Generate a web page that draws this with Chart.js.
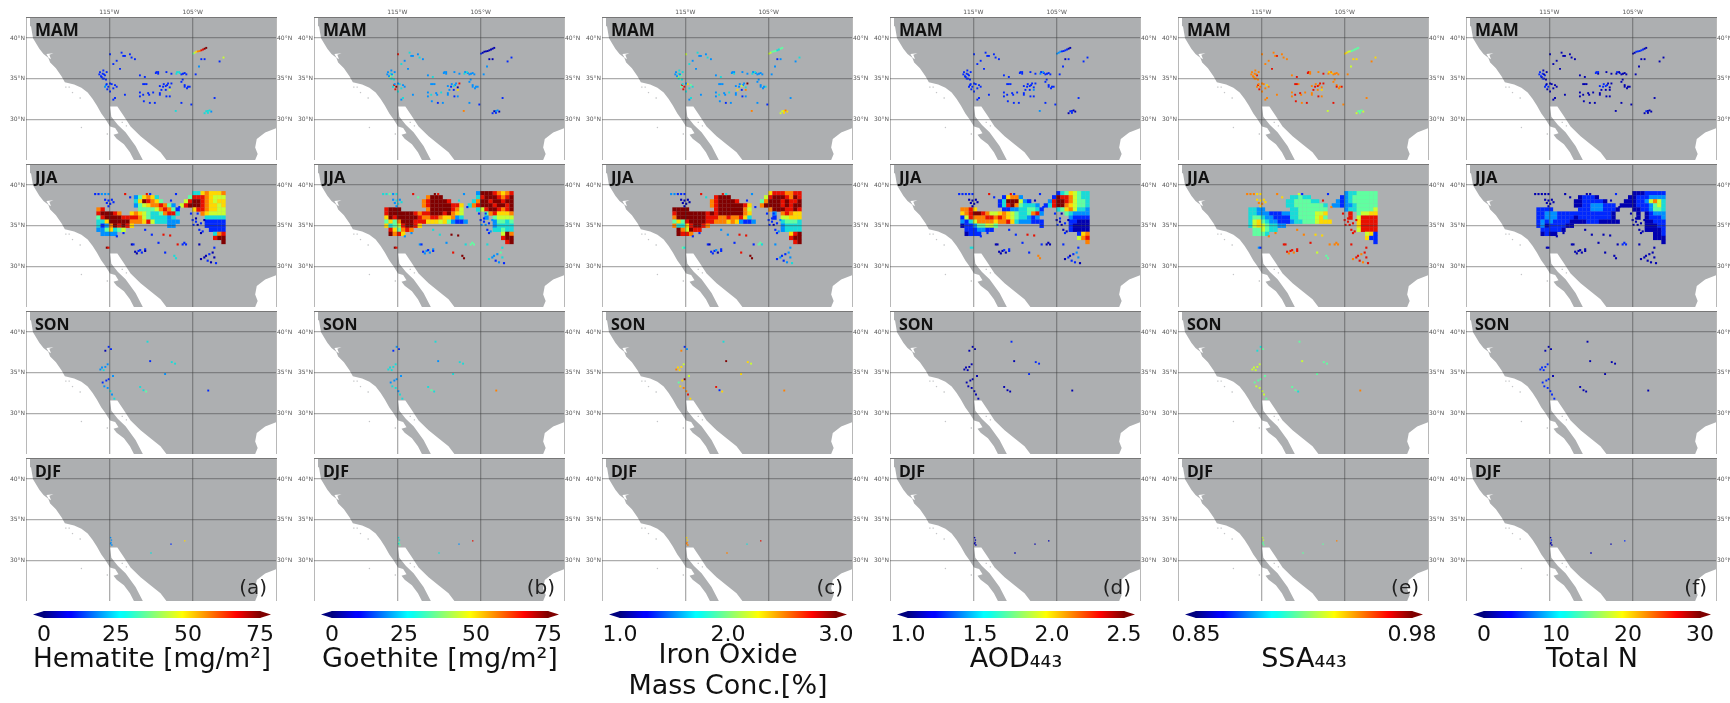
<!DOCTYPE html>
<html><head><meta charset="utf-8">
<style>html,body{margin:0;padding:0;background:#fff;overflow:hidden}
canvas{position:absolute;display:block}
canvas.map{filter:blur(0.7px)}
canvas.cbar{filter:blur(0.4px)}</style>
<script src="https://cdn.jsdelivr.net/npm/chart.js@4/dist/chart.umd.min.js"></script>
</head><body>
<script>
const seasons=['MAM','JJA','SON','DJF'];
const panelTags=['(a)','(b)','(c)','(d)','(e)','(f)'];
const lonTicks=[-125,-115,-105,-95];
const latTicks=[30,35,40];
const coast=[[-124.52,42.6],[-95,42.6],[-95,28.92],[-96.3,28.4],[-97.31,27.6],[-97.5,26.53],[-97.2,25.74],[-97.5,25],
[-108.15,25],[-108.86,25.94],[-110.06,26.93],[-111.25,27.93],[-112.45,29.12],[-113.33,30.52],[-114.04,31.6],
[-114.92,31.6],[-114.76,30.32],[-113.96,29.32],[-113.05,28.41],[-111.85,26.73],[-110.98,25],[-112.05,25],
[-112.53,25.94],[-113.25,26.93],[-114.12,27.61],[-114.5,28.1],[-113.9,28.3],[-114.3,28.95],[-114.92,29.12],[-115.44,30],
[-115.96,30.72],[-116.5,31.7],[-117,32.5],[-117.6,33.3],[-118.35,33.9],[-119.22,34.3],[-120.34,34.58],[-120.74,35.3],
[-121.41,36.29],[-122.1,37.01],[-122.33,37.57],[-122.9,38.05],[-123.4,38.69],[-124.16,40],[-124.4,41.47],[-124.52,42.6]];
const bay=[[-122.55,38.05],[-121.7,38.15],[-122.2,37.95],[-122,37.4],[-122.3,37.6],[-122.55,38.05]];
const islandLon=[-120.22,-119.82,-119.42,-118.5,-118.35,-115.24,-113.45,-112.95];
const islandLat=[33.98,33.98,33.3,32.63,29,28.2,29.64,29.2];

const jjaLonStart=-116.3, jjaLonStep=0.5;
const jjaLat=[39,38.5,38,37.5,37,36.5,36,35.5,35,34.5,34,33.5,33];
const jjaHematite=[
"......... ............ ..33676667",
"......... 246763...... .488876555",
"......... 3698764..... 5899876566",
"......... 2456778742.5 8999876656",
"78....... .4444578741. ..68876655",
"899987..6 76543347883. ....765555",
"489999888 8754333323.. .....33333",
"336999997 77685333222. .....11111",
"312798986 ........22.. .....11111",
"2246345.. ............ ......1111",
".2222.... ............ .......378",
"......... ............ .......899",
"......... ............ .........9"];
const jjaGoethite=[
"......... ............ .299987678",
"......... .7999....... .389998789",
"......... 7899998..... 3799899899",
"......... 7899999886.3 7899989989",
"8999..... .799999875.. .358998789",
"899999987 8899989765.. ...4786667",
"698999998 7788766723.. ...2.45555",
"464799988 86665642112. .....24434",
"634589986 ............ .....23333",
".864787.. ............ .....33433",
".9786.... ............ .......597",
"......... ............ .......899",
"......... ............ ........89"];
const jjaIron=[
"......... ............ ..68887788",
"......... .8999....... .589998798",
"......... 7899998..... 4799989889",
"......... 7899999986.. 7999989899",
"9999..... .899999975.. ..79998898",
"899999998 9899999976.. ...2.78766",
"799999998 8877877863.. ...1.55666",
"464899998 87776762112. .....34443",
"733689987 ............ .....23333",
".975988.. ............ .....23333",
".9887.... ............ .......689",
"......... ............ .......899",
"......... ............ ........89"];
const jjaAod=[
"......... ............ ..13465433",
"......... .16772...... .198875433",
"......... 13999521.... 2899875443",
"......... 1389743332.1 3899765443",
"7786..... .1122334431. ..34675332",
"678998755 67654334782. ....432222",
"158777887 8765433212.. .....21111",
"213577776 77863222111. .....11000",
"011244554 ..........1. .....10000",
".1112211. ............ .....10000",
".0111.... ............ .......167",
"......... ............ .......578",
"......... ............ .........7"];
const jjaSsa=[
"......... ............ ..23344444",
"......... .33433...... .123444444",
"......... 33444433.... 2123444444",
"......... 3344444443.2 2122344444",
"3322..... .334444444.. ..23344445",
"332221112 2334444556.. ...8.45566",
"344322111 1334444564.. ...8.58888",
"356432211 12334445666. .....68888",
"356543322 ............ .....68888",
".445433.. ............ .....58888",
".4443.... ............ .......561",
"......... ............ .......611",
"......... ............ .........1"];
const jjaTotalN=[
"......... ............ ..00011111",
"......... .01110...... .001112222",
"......... 00111110.... 0001125753",
"......... 0011222111.0 0001112453",
"1111..... .1112221110. ..00112443",
"112221111 1111111110.. ...0.01222",
"112221111 0111111110.. ...0.01112",
"121211110 00011100000. .....00111",
"120111100 ............ .....00011",
".111110.. ............ .....00001",
".0100.... ............ .......001",
"......... ............ .......000",
"......... ............ .........0"];

const jjaSiteLon=[-116.7,-116.3,-115.9,-115.5,-115.1, -115.5,-115.1,-114.7,-115.3,-114.9,-114.5,-115.1,
-113.1,-112.5,-110.5,-110.1,-107,-107.6,-106.6, -114.1,-113.3,-110.7,-109.9,-108.5,-107.7,-109.1,-110.7, -115.3,-115.1,
-111.9,-111.5,-111.1,-110.7,-111.7,-111.3,-112.3,-112.1, -108.3,-107.2,-107, -106,-105.8,-106.2, -106.8,
-105,-104.6,-104.4,-104,-104.9,-103.8,-104.2,-104.6,-103.6,-105.2,-104.4,-104,
-104,-103.6,-103.2,-102.8,-102.4,-102.2,-102.6,-102.4,-103.4,-103,-104.2];
const jjaSiteLat=[38.9,38.9,38.9,38.9,38.9, 38.2,38.1,38.2,37.8,37.7,37.9,37.4,
38.9,38.5,38.9,38.9,38.9,38.1,37.3, 33.7,34.1,34.5,33.9,33.9,33.8,32.9,32.1, 32.3,32.3,
31.8,31.9,31.7,31.9,31.6,32,32.7,32.7, 31.7,31.3,31, 32.9,32.7,32.7, 32.7,
35.7,35.5,35.1,35.3,35.1,34.3,34.5,35.9,35.7,36.5,36.5,34.1,
30.9,31.1,30.7,30.5,31.1,30.4,31.7,32.3,31.3,31.5,32.7];
const jjaSiteHematite="11222 1111111 8181111 11118811 98 01100101 133 111 8 110111100110 00100101010";
const jjaSiteGoethite="33423 2322332 8498231 22339922 98 12212121 899 444 3 112122112111 32123143223";
const jjaSiteIron="22111 0000000 8383211 11228811 43 11011210 899 434 1 110112112111 12122322112";
const jjaSiteAod="11111 0000000 8181101 11118811 33 00010100 177 000 1 000110010101 01112021011";
const jjaSiteSsa="77766 6667766 7651187 77776688 21 88787888 544 777 7 888888888888 78878888878";
const jjaSiteN="00000 0000000 0000100 00000000 00 00000000 000 111 0 000000000000 00000000000";

const mamSiteLon=[-104.96,-104.76,-104.56,-104.36,-104.16,-103.96,-103.76,-103.56,-103.37, -103.96,-103.57,-104.24,
-103.17,-102.77,-103.57,-103.37,-102.97,-103.17, -107.03, -106.87,-106.55,-106.16,-105.76,-104.64,
-116.12,-115.8,-115.52,-115.92,-115.64,-115.32,-115.72, -115.4,-115.12,-114.72,-114.32,-115.24,-114.12,-114.92,
-114.92,-114.12,-113.53,-113.13,-112.33,-111.93,-114.52,-113.72, -114.52,-114.32,-113.13,
-110.94,-110.54,-109.34,-109.14,-111.33,-110.74,-108.15,-107.55,
-111.33,-110.94,-110.34,-109.74,-110.86,-110.14,-109.54,-108.94,-108.15,-107.75,-106.35,-105.16,
-108.94,-108.55,-108.07,-107.75,-108.75,-107.55,-108.23,-107.75, -105.96,-105.68,-105.36,-106.35,-106.2, -102.37,-101.77,-101.3,
-116.2,-116,-115.8,-115.4,-115.64, -115.52,-115.32,-114.92,-114.52,
-109.42,-109.14,-110.74,-108.47,-108.23,-107.95, -106.95,-106.63,-106.35,-105.96,
-105.56,-105.96,-110.22,-108.94,-113.33,-112.53,-111.33];
const mamSiteLat=[38.09,38.2,38.33,38.37,38.41,38.5,38.6,38.7,38.8, 37.41,37.41,36.5,
31.04,30.96,30.76,31,31.1,30.8, 31.04, 35.82,35.7,35.62,35.54,35.54,
35.82,35.62,35.42,35.22,35.02,35.82,36.02, 34.22,34.02,34.34,34.22,33.7,34.02,33.43,
38.01,37.21,38.21,37.81,37.61,37.41,36.81,36.21, 32.43,32.63,33.03,
34.34,34.34,35.82,35.62,35.42,35.22,35.82,35.62,
33.31,33.03,33.23,33.31,32.23,32.03,32.03,33.23,32.83,32.83,32.03,31.83,
34.1,34.02,34.22,33.94,33.63,34.42,33.63,33.63, 34.22,33.83,34.02,34.62,34.9, 32.63,37.13,37.61,
35.54,35.3,35.02,34.9,35.54, 34.02,34.34,34.42,33.82,
35.7,35.82,34.34,34.34,34.1,34.42, 35.62,35.82,35.54,35.7,
34.02,34.02,33.03,33.03,37.81,38.01,32.83];
const mamHematite="456778899 112 323333 3 33111 1111111 2111111 11111111 111 11111111 111111111111 11111115 11111 115 11111 2111 111111 3311 1111111";
const mamGoethite="100000000 002 201021 7 22222 2345322 8932823 82323232 232 22222322 232321221221 21202816 22222 111 22332 3223 222232 3322 2222222";
const mamIron="554443344 122 665576 7 22222 2345433 8864833 52323232 232 22232322 232321221221 22236917 22322 223 22332 4323 222252 3322 2222222";
const mamAod="222111100 011 100101 2 11111 1111111 1111111 11111111 111 11111111 111111111111 11111112 11111 111 11111 1111 111111 2211 1111111";
const mamSsa="665544444 665 455444 5 66777 7787777 8776877 77787778 777 87877878 788787878787 78778876 77877 776 77777 7777 878788 7777 7877777";
const mamN="001111100 000 000100 0 11000 1110000 1100000 00000000 000 00100000 000000000000 11100000 00000 000 11100 1000 110110 0000 0000000";

const sonSiteLon=[-115.08,-114.8,-115.48, -115.88,-115.48,-116.08,-115.68,-115.2, -115.8,-115.36,-115.08,
-115.6,-115.2,-114.88,-114.68,-114.4, -111.3,-110.9,-110.58, -107.51,-107.11, -110.1,-108.31,-110.42,-103.13,-114.56];
const sonSiteLat=[38.19,37.91,37.71, 35.64,35.72,35.4,35.32,36.04, 33.8,34.04,34.2,
33.33,33.13,32.73,32.33,31.81, 33.25,32.85,32.69, 36.31,36.12, 36.43,34.84,38.82,32.81,34.6];
const sonHematite="110 22232 111 22323 334 33 1 2 3 1 2";
const sonGoethite="211 33333 222 33233 343 33 2 3 3 7 2";
const sonIron="127 66765 469 67786 816 65 9 6 3 7 5";
const sonAod="000 00000 000 00000 000 11 0 1 1 0 0";
const sonSsa="343 55555 444 55554 443 44 5 4 4 7 4";
const sonN="000 11111 111 11111 000 00 0 0 0 0 0";

const djfSiteLon=[-114.85,-114.75,-114.8,-114.7,-114.85,-107.6,-105.95,-110];
const djfSiteLat=[32.8,32.5,32.2,31.9,32.05,32,32.4,30.9];
const djfHematite="22222 1 6 3";
const djfGoethite="33443 2 8 3";
const djfIron="66777 3 8 7";
const djfAod="00000 0 0 0";
const djfSsa="55444 4 7 4";
const djfN="01000 0 1 0";

const levelColors=['#0000b0','#0028ff','#0090ff','#18dcd8','#60ffa0','#c8ff30','#ffd800','#ff8000','#e81000','#800000'];
const jetStops=[[0,'#00007f'],[0.11,'#0000ff'],[0.125,'#0000ff'],[0.35,'#00ffff'],[0.375,'#08fff0'],[0.5,'#7fff7f'],[0.64,'#ffff00'],[0.89,'#ff0000'],[1,'#7f0000']];

const barNames=['Hematite [mg/m²]','Goethite [mg/m²]',['Iron Oxide','Mass Conc.[%]'],'AOD₄₄₃','SSA₄₄₃','Total N'];
const barMin=[0,0,1,1,0.85,0];
const barMax=[75,75,3,2.5,0.98,30];
const barTicks=[[0,25,50,75],[0,25,50,75],[1,2,3],[1,1.5,2,2.5],[0.85,0.98],[0,10,20,30]];
const barTickText=[['0','25','50','75'],['0','25','50','75'],['1.0','2.0','3.0'],['1.0','1.5','2.0','2.5'],['0.85','0.98'],['0','10','20','30']];

const jjaRasters=[jjaHematite,jjaGoethite,jjaIron,jjaAod,jjaSsa,jjaTotalN];
const jjaSiteLevels=[jjaSiteHematite,jjaSiteGoethite,jjaSiteIron,jjaSiteAod,jjaSiteSsa,jjaSiteN];
const mamLevels=[mamHematite,mamGoethite,mamIron,mamAod,mamSsa,mamN];
const sonLevels=[sonHematite,sonGoethite,sonIron,sonAod,sonSsa,sonN];
const djfLevels=[djfHematite,djfGoethite,djfIron,djfAod,djfSsa,djfN];

/* layout */
const colLeft=[26,314,602,890,1178,1466];
const rowTop=[17,164,311,458];
const PW=250,PH=147,MX=26,MY=12;
Chart.defaults.font.family='"DejaVu Sans"';

function addCanvas(x,y,w,h,cls){
  const c=document.createElement('canvas');
  c.width=w;c.height=h;c.style.left=x+'px';c.style.top=y+'px';c.style.width=w+'px';c.style.height=h+'px';
  if(cls)c.className=cls;document.body.appendChild(c);return c;
}
function sitePoints(lons,lats,levels){
  const s=levels.replace(/ /g,'');const pts=[],cols=[];
  for(let i=0;i<lons.length;i++){
    const k=s[i];if(k===undefined)continue;
    pts.push({x:lons[i],y:lats[i]});cols.push(levelColors[+k]);
  }
  return {pts,cols};
}
function rasterPoints(rows){
  const pts=[],cols=[];
  rows.forEach((r,j)=>{const s=r.replace(/ /g,'');
    for(let i=0;i<s.length;i++){ if(s[i]==='.')continue;
      pts.push({x:jjaLonStart+i*jjaLonStep,y:jjaLat[j]});cols.push(levelColors[+s[i]]);}
  });
  return {pts,cols};
}
const zeroPad=s=>{s.paddingLeft=s.paddingRight=s.paddingTop=s.paddingBottom=0;};
const GRID='rgba(60,60,60,0.42)';
const isEdgeLon=v=>v===-125||v===-95;

function panel(col,row){
  const cv=addCanvas(colLeft[col]-MX,rowTop[row]-MY,PW+2*MX,PH+MY,'map');
  const ds=[];
  ds.push({data:coast.map(p=>({x:p[0],y:p[1]})),showLine:true,fill:'shape',backgroundColor:'#adafb1',borderWidth:0,pointRadius:0,order:5});
  ds.push({data:bay.map(p=>({x:p[0],y:p[1]})),showLine:true,fill:'shape',backgroundColor:'#ffffff',borderWidth:0,pointRadius:0,order:4});
  ds.push({data:islandLon.map((v,i)=>({x:v,y:islandLat[i]})),showLine:false,pointStyle:'rect',pointRadius:0.9,pointBorderWidth:0,pointBackgroundColor:'#c4c5c7',order:4});
  let sites=null;
  if(row===0)sites=sitePoints(mamSiteLon,mamSiteLat,mamLevels[col]);
  if(row===1){
    const r=rasterPoints(jjaRasters[col]);
    ds.push({data:r.pts,showLine:false,pointStyle:'rect',pointRadius:3.05,pointBorderWidth:0,pointBackgroundColor:r.cols,order:3});
    sites=sitePoints(jjaSiteLon,jjaSiteLat,jjaSiteLevels[col]);
  }
  if(row===2)sites=sitePoints(sonSiteLon,sonSiteLat,sonLevels[col]);
  if(row===3)sites=sitePoints(djfSiteLon,djfSiteLat,djfLevels[col]);
  ds.push({data:sites.pts,showLine:false,pointStyle:'rect',pointRadius:row===3?1:row===1?1.5:1.35,pointBorderWidth:0,pointBackgroundColor:sites.cols,order:2});

  const labelPlugin={id:'lbl',afterDraw(ch){
    const a=ch.chartArea,c=ch.ctx;c.save();
    c.fillStyle='#111';c.textBaseline='alphabetic';c.textAlign='left';
    c.font='700 '+(row===0?17:row===1?16.5:16)+'px "Open Sans"';
    c.fillText(seasons[row],a.left+9,a.top+19);
    if(row===3){c.font='20px "DejaVu Sans"';c.textAlign='right';c.fillStyle='#222';c.fillText(panelTags[col],a.right-9,a.bottom-7);}
    c.restore();
  }};
  new Chart(cv,{type:'scatter',data:{datasets:ds},plugins:[labelPlugin],options:{
    responsive:false,animation:false,events:[],layout:{padding:0},
    plugins:{legend:{display:false},tooltip:{enabled:false}},
    scales:{
      x:{type:'linear',position:'top',min:-125,max:-95,
        afterBuildTicks:s=>{s.ticks=lonTicks.map(v=>({value:v}));},
        afterFit:s=>{s.height=MY;zeroPad(s);},
        grid:{color:c=>isEdgeLon(c.tick&&c.tick.value)?'#b8b8b8':GRID,lineWidth:c=>isEdgeLon(c.tick&&c.tick.value)?1:1.3,drawTicks:false,z:1},
        border:{display:true,color:'#777',width:1,z:2},
        ticks:{display:row===0,autoSkip:false,maxRotation:0,padding:1,color:'#555',font:{size:6},callback:v=>isEdgeLon(v)?'':(-v)+'°W'}},
      y:{type:'linear',position:'left',min:25,max:42.6,
        afterBuildTicks:s=>{s.ticks=latTicks.map(v=>({value:v}));},
        afterFit:s=>{s.width=MX;zeroPad(s);},
        grid:{color:GRID,lineWidth:1.3,drawTicks:false,z:1},
        border:{display:false},
        ticks:{autoSkip:false,padding:1,color:'#555',font:{size:6},callback:v=>v+'°N'}},
      y2:{type:'linear',position:'right',min:25,max:42.6,
        afterBuildTicks:s=>{s.ticks=latTicks.map(v=>({value:v}));},
        afterFit:s=>{s.width=MX;zeroPad(s);},
        grid:{display:false,drawTicks:false},
        border:{display:false},
        ticks:{autoSkip:false,padding:1,color:'#555',font:{size:6},callback:v=>v+'°N'}}
    }}});
}

function colorbar(col){
  const top=605,h=98,w=PW+2*MX;
  const cv=addCanvas(colLeft[col]-MX,top,w,h,'cbar');
  const lo=barMin[col],hi=barMax[col],ext=(hi-lo)*0.051;
  const tip=(x,y)=>({x,y});
  const isMulti=Array.isArray(barNames[col]);
  const grad=ctx=>{
    const ch=ctx.chart,sc=ch.scales.x;
    if(!ch.chartArea)return '#00f';
    const g=ch.ctx.createLinearGradient(sc.getPixelForValue(lo),0,sc.getPixelForValue(hi),0);
    jetStops.forEach(s=>g.addColorStop(s[0],s[1]));return g;
  };
  new Chart(cv,{type:'bar',data:{datasets:[
    {type:'bar',indexAxis:'y',data:[{x:[lo,hi],y:0.5}],backgroundColor:grad,barPercentage:1,categoryPercentage:1,borderWidth:0},
    {type:'line',data:[tip(lo,0),tip(lo-ext,0.5),tip(lo,1),tip(lo,0)],fill:'shape',backgroundColor:'#00007f',borderWidth:0,pointRadius:0},
    {type:'line',data:[tip(hi,0),tip(hi+ext,0.5),tip(hi,1),tip(hi,0)],fill:'shape',backgroundColor:'#7f0000',borderWidth:0,pointRadius:0}
  ]},options:{
    responsive:false,animation:false,events:[],
    layout:{padding:{top:6,left:33,right:31,bottom:0}},
    plugins:{legend:{display:false},tooltip:{enabled:false}},
    scales:{
      x:{type:'linear',position:'bottom',offset:false,min:lo-ext,max:hi+ext,
        afterBuildTicks:s=>{s.ticks=barTicks[col].map(v=>({value:v}));},
        afterFit:s=>{s.height=h-6-7;zeroPad(s);},
        grid:{display:false,offset:false},border:{display:false},
        ticks:{autoSkip:false,maxRotation:0,padding:-4,color:'#111',font:{size:22},
          callback:(v,i)=>barTickText[col][i]},
        title:{display:true,text:barNames[col],color:'#111',font:{size:27,lineHeight:1.17},padding:{top:0,bottom:isMulti?0:27}}},
      y:{type:'linear',display:false,offset:false,min:0,max:1,afterFit:s=>{s.width=0;zeroPad(s);}}
    }}});
}
for(let c=0;c<6;c++){for(let r=0;r<4;r++)panel(c,r);colorbar(c);}
</script>
</body></html>
